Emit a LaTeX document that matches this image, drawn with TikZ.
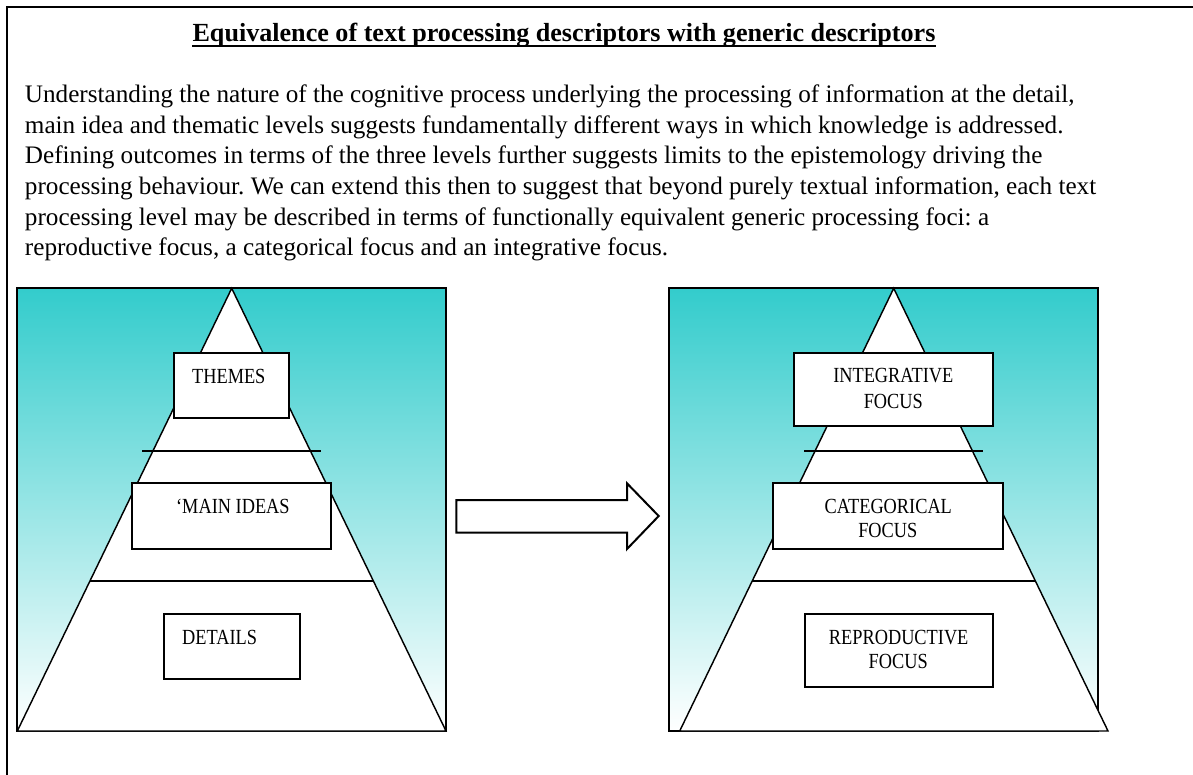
\documentclass[tikz,border=0pt]{standalone}
\usepackage{fontspec}
\usepackage{graphicx}
\setmainfont{Liberation Serif}
\frenchspacing
\definecolor{tealtop}{RGB}{51,204,204}
\newcommand{\cond}[1]{\scalebox{0.85}[1]{#1}}
\begin{document}
\begin{tikzpicture}[x=0.45pt,y=-0.45pt,
  txt/.style={inner sep=0pt, font=\fontsize{11.33}{13.8}\selectfont, anchor=base west},
  lbl/.style={inner sep=0pt, font=\fontsize{9.7}{11.5}\selectfont},
  panel/.style={draw, line width=0.9pt, top color=tealtop, bottom color=white, inner sep=0pt, minimum width=192.9pt, minimum height=199.2pt},
  wbox/.style={draw, fill=white, line width=0.9pt, inner sep=0pt},
  pyr/.style={draw, fill=white, line width=0.65pt},
  tier/.style={line width=0.9pt}]
\useasboundingbox (0,0) rectangle (1193,774);
% outer frame (cut by the page edges)
\begin{scope}
\clip (0,0) rectangle (1193,774);
\draw[line width=0.9pt] (1200,6.7) -- (6.7,6.7) -- (6.7,780);
\end{scope}
% title
\node[inner sep=0pt, anchor=base, font=\fontsize{11.75}{13.8}\selectfont\bfseries] (title) at (564,41.7) {Equivalence of text processing descriptors with generic descriptors};
\draw[line width=0.9pt] ([yshift=-2pt]title.base west) -- ([yshift=-2pt]title.base east);
% body text
\node[txt] (l1) at (24.5,102.7) {Understanding the nature of the cognitive process underlying the processing of information at the detail,};
\node[txt] (l2) at (24.5,133.3) {main idea and thematic levels suggests fundamentally different ways in which knowledge is addressed.};
\node[txt] (l3) at (24.5,163.9) {Defining outcomes in terms of the three levels further suggests limits to the epistemology driving the};
\node[txt] (l4) at (24.5,194.5) {processing behaviour. We can extend this then to suggest that beyond purely textual information, each text};
\node[txt] (l5) at (24.5,225.1) {processing level may be described in terms of functionally equivalent generic processing foci: a};
\node[txt] (l6) at (24.5,255.7) {reproductive focus, a categorical focus and an integrative focus.};
% ---------- left panel ----------
\node[panel] (lpanel) at (231.65,509.65) {};
\coordinate (lapex) at (231.7,288.3);
\coordinate (lbl) at (17.3,731);
\coordinate (lbr) at (446,731);
\draw[pyr] (lapex) -- (lbl) -- (lbr) -- cycle;
\coordinate (lu1) at (142.3,450.7); \coordinate (lu2) at (321,450.7);
\coordinate (ld1) at (90,581); \coordinate (ld2) at (373.4,581);
\draw[tier] (lu1) -- (lu2);
\draw[tier] (ld1) -- (ld2);
\node[wbox, minimum width=51.9pt, minimum height=29.25pt] (themesbox) at (231.7,385.8) {};
\node[wbox, minimum width=89.55pt, minimum height=29.6pt] (mainbox) at (231.8,516.2) {};
\node[wbox, minimum width=61.3pt, minimum height=29.4pt] (detbox) at (231.8,646.7) {};
\node[lbl, anchor=base west] (themes) at (191.7,383.3) {\cond{THEMES}};
\node[lbl, anchor=base west] (mainideas) at (175.7,513.3) {\cond{‘MAIN IDEAS}};
\node[lbl, anchor=base west] (details) at (181.7,644) {\cond{DETAILS}};
% ---------- block arrow ----------
\coordinate (a1) at (456.3,500);
\coordinate (a2) at (627,500);
\coordinate (a3) at (627,483.3);
\coordinate (a4) at (658.7,516);
\coordinate (a5) at (627,549);
\coordinate (a6) at (627,532.7);
\coordinate (a7) at (456.3,532.7);
\draw[fill=white, line width=0.9pt] (a1) -- (a2) -- (a3) -- (a4) -- (a5) -- (a6) -- (a7) -- cycle;
% ---------- right panel ----------
\node[panel] (rpanel) at (883.15,509.65) {};
\coordinate (rapex) at (893.7,288.3);
\coordinate (rbl) at (679.7,731);
\coordinate (rbr) at (1108,731);
\draw[pyr] (rapex) -- (rbl) -- (rbr) -- cycle;
\coordinate (ru1) at (804,450.7); \coordinate (ru2) at (983,450.7);
\coordinate (rd1) at (752,581); \coordinate (rd2) at (1035.3,581);
\draw[tier] (ru1) -- (ru2);
\draw[tier] (rd1) -- (rd2);
\node[wbox, minimum width=89.7pt, minimum height=32.6pt] (integbox) at (893.7,389.5) {};
\node[wbox, minimum width=103.6pt, minimum height=29.6pt] (categbox) at (888.2,516.2) {};
\node[wbox, minimum width=84.9pt, minimum height=32.7pt] (reprobox) at (899,650.3) {};
\node[lbl, anchor=base] (integ1) at (893.3,382.3) {\cond{INTEGRATIVE}};
\node[lbl, anchor=base] (integ2) at (893.3,408.3) {\cond{FOCUS}};
\node[lbl, anchor=base] (categ1) at (888.3,513.3) {\cond{CATEGORICAL}};
\node[lbl, anchor=base] (categ2) at (887.8,537.7) {\cond{FOCUS}};
\node[lbl, anchor=base] (repro1) at (898.7,644) {\cond{REPRODUCTIVE}};
\node[lbl, anchor=base] (repro2) at (898.2,668.3) {\cond{FOCUS}};
\end{tikzpicture}
\end{document}
